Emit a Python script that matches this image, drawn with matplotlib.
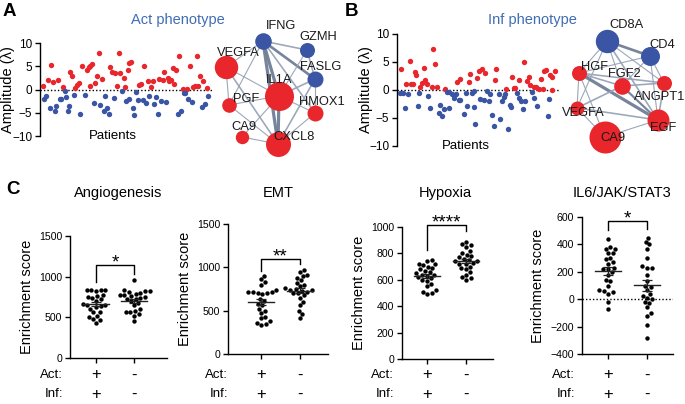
import numpy as np
import matplotlib
matplotlib.use('Agg')
import matplotlib.pyplot as plt
from matplotlib.transforms import blended_transform_factory as btf

plt.rcParams['font.family'] = ['Liberation Sans', 'DejaVu Sans']

RED = '#E8262B'
BLUE = '#3A55A4'
TITLE_BLUE = '#3F6DB5'

W, H = 685, 404

# ---------------- Panel A data (patient order, amplitude) ----------------
a_red_x = [3, 8, 11, 13, 18, 23, 31, 33, 36, 38, 40, 43, 48, 50, 51, 51, 53, 56, 58, 60, 63, 71, 73, 76,
           78, 80, 81, 85, 86, 90, 91, 93, 101, 103, 106, 110, 113, 115, 121, 125, 126, 130, 131, 133,
           135, 136, 138, 141, 145, 150, 153, 156, 158, 160, 161, 163, 166, 170]
a_red_y = [0.8, 2.1, 5.3, 1.7, 2.0, 0.5, 3.7, 3.0, 0.3, 1.0, 1.5, 5.0, 4.3, 4.8, 5.1, 0.8, 5.5, 1.5, 3.0, 7.8,
           2.3, 4.8, 3.7, 3.5, 0.8, 7.8, 3.5, 2.4, 0.5, 4.2, 5.8, 5.9, 0.9, 1.2, 5.0, 1.9, 0.5, 1.9, 2.3,
           2.0, 3.7, 2.5, 1.8, 2.0, 4.7, 1.2, 4.3, 7.1, 0.1, 0.1, 5.0, 0.5, 0.7, 7.3, 0.7, 3.0, 1.9, 0.3]
a_blue_x = [4, 6, 10, 15, 16, 20, 21, 25, 26, 28, 30, 35, 41, 46, 55, 61, 65, 66, 68, 70, 75, 83, 88, 91,
            95, 96, 98, 100, 105, 108, 111, 116, 118, 120, 123, 128, 140, 143, 146, 148, 151, 155, 165,
            168, 171]
a_blue_y = [-2.0, -1.3, -4.0, -4.7, -3.5, -2.0, -2.0, -0.4, -1.7, -4.6, -3.5, -1.2, -5.2, -1.2, -2.8, -3.3,
            -4.6, -1.3, -4.0, -5.2, -1.9, -0.3, -2.5, -2.0, -4.0, -5.5, -0.5, -2.2, -2.2, -2.8, -1.5, -3.1,
            -1.7, -5.2, -2.5, -2.7, -5.2, -4.6, -0.8, -0.8, -2.0, -2.7, -3.8, -3.1, -1.4]

# ---------------- Panel B data ----------------
b_red_x = [4, 9, 13, 14, 16, 18, 19, 23, 25, 27, 28, 30, 35, 36, 38, 40, 49, 61, 64, 73, 74, 81, 83, 86,
           89, 99, 100, 110, 116, 118, 119, 123, 129, 132, 134, 135, 139, 141, 144, 146, 148, 149, 151,
           155, 157, 157, 160]
b_red_y = [3.7, 1.1, 5.2, 1.1, 1.0, 3.2, 2.7, 0.6, 1.3, 4.0, 1.7, 1.0, 0.6, 7.3, 4.6, 0.6, 0.2, 1.4, 2.0,
           1.4, 2.9, 2.1, 3.4, 3.8, 3.1, 1.7, 3.7, 0.1, 2.3, 0.4, 0.3, 1.7, 5.0, 1.6, 2.3, 0.9, 0.5, 0.5,
           0.2, 2.0, 0.1, 3.4, 3.6, 2.7, 2.3, 0.0, 3.4]
b_blue_x = [3, 6, 8, 11, 21, 22, 31, 33, 43, 44, 46, 48, 51, 53, 53, 56, 58, 60, 63, 64, 68, 70, 71, 76,
            78, 78, 79, 84, 88, 91, 93, 94, 96, 98, 103, 104, 106, 108, 109, 112, 114, 115, 121, 124, 126,
            128, 130, 137, 139, 142, 153, 154]
b_blue_y = [-0.5, -0.5, -3.2, -0.7, -2.9, -0.5, -1.1, -3.2, -4.1, -2.7, -4.6, -3.4, -0.3, -3.3, -0.4, -0.7,
            -1.4, -0.8, -1.7, -1.7, -4.3, -0.5, -2.9, -0.5, -0.1, -3.0, -6.0, -1.6, -1.7, -0.1, -1.9, -0.7,
            -4.5, -6.4, -0.7, -5.1, -2.0, -1.3, -0.8, -7.0, -2.6, -3.1, -0.5, -1.4, -1.9, -3.4, -2.0, -0.4,
            -1.4, -2.9, -4.6, -1.6]

# ---------------- Networks ----------------
net_a_nodes = ['IFNG', 'GZMH', 'FASLG', 'VEGFA', 'IL1A', 'PGF', 'HMOX1', 'CA9', 'CXCL8']
net_a_kind = ['imm', 'imm', 'imm', 'ang', 'ang', 'ang', 'ang', 'ang', 'ang']
net_a_size = [8.3, 7.5, 8.0, 11.7, 14.5, 7.3, 8.0, 6.7, 12.5]
net_a_edges = [('IFNG', 'GZMH', 1.5), ('IFNG', 'FASLG', 2.5), ('IFNG', 'VEGFA', 1), ('IFNG', 'IL1A', 3),
               ('IFNG', 'CXCL8', 3), ('IFNG', 'HMOX1', 1.5), ('IFNG', 'PGF', 1), ('GZMH', 'FASLG', 1.5),
               ('GZMH', 'IL1A', 1), ('FASLG', 'IL1A', 1.5), ('FASLG', 'HMOX1', 1), ('FASLG', 'CXCL8', 1.5),
               ('VEGFA', 'PGF', 1), ('VEGFA', 'IL1A', 1), ('VEGFA', 'CXCL8', 1.5), ('PGF', 'IL1A', 1),
               ('PGF', 'CXCL8', 1), ('CA9', 'CXCL8', 1), ('CA9', 'IL1A', 1), ('IL1A', 'CXCL8', 3),
               ('HMOX1', 'CXCL8', 1), ('HMOX1', 'IL1A', 1)]
net_b_nodes = ['CD8A', 'CD4', 'HGF', 'FGF2', 'ANGPT1', 'VEGFA', 'EGF', 'CA9']
net_b_kind = ['imm', 'imm', 'ang', 'ang', 'ang', 'ang', 'ang', 'ang']
net_b_size = [11.7, 9.5, 7.5, 8.3, 7.5, 7.0, 11.0, 16.0]
net_b_edges = [('CD8A', 'CD4', 2.5), ('CD8A', 'HGF', 1), ('CD8A', 'FGF2', 1), ('CD8A', 'ANGPT1', 1),
               ('CD8A', 'EGF', 1.5), ('CD8A', 'VEGFA', 1), ('CD4', 'HGF', 1), ('CD4', 'FGF2', 1),
               ('CD4', 'ANGPT1', 1), ('CD4', 'EGF', 1), ('HGF', 'FGF2', 1.5), ('HGF', 'ANGPT1', 1.5),
               ('HGF', 'EGF', 3), ('HGF', 'VEGFA', 1), ('HGF', 'CA9', 1), ('FGF2', 'EGF', 2),
               ('FGF2', 'ANGPT1', 1.5), ('FGF2', 'VEGFA', 1.5), ('ANGPT1', 'EGF', 1.5), ('VEGFA', 'EGF', 1.5),
               ('VEGFA', 'CA9', 1), ('CA9', 'EGF', 1)]

# ---------------- Panel C data ----------------
c_titles = ['Angiogenesis', 'EMT', 'Hypoxia', 'IL6/JAK/STAT3']
c_sig = ['*', '**', '****', '*']
c_g1 = [
    [840, 830, 830, 820, 840, 770, 760, 750, 740, 720, 700, 660, 650, 650, 640, 630, 600, 570, 560, 520, 500, 480, 470, 430],
    [900, 860, 830, 800, 740, 720, 720, 710, 700, 700, 690, 640, 610, 580, 560, 520, 500, 470, 430, 410, 380, 360, 350, 340],
    [750, 740, 720, 720, 710, 700, 690, 680, 670, 660, 650, 640, 640, 630, 620, 610, 600, 590, 570, 550, 520, 510, 500, 490],
    [440, 380, 370, 370, 340, 340, 300, 290, 270, 260, 230, 220, 220, 200, 180, 140, 130, 100, 70, 60, 50, 40, -20, -70],
]
c_g2 = [
    [960, 830, 820, 820, 810, 800, 790, 780, 770, 760, 750, 740, 730, 720, 700, 680, 650, 600, 580, 560, 560, 540, 520, 460],
    [970, 950, 910, 900, 880, 850, 820, 800, 780, 760, 750, 740, 740, 730, 720, 700, 700, 680, 650, 600, 560, 500, 460, 410],
    [890, 870, 860, 850, 820, 800, 790, 780, 770, 760, 750, 740, 740, 730, 720, 720, 700, 690, 680, 660, 640, 620, 610, 600],
    [450, 420, 400, 370, 300, 240, 230, 230, 180, 130, 100, 90, 70, 40, 20, 10, 0, -20, -30, -60, -100, -120, -190, -280],
]
c_ylim = [(0, 1500), (0, 1500), (0, 1000), (-400, 600)]
c_yticks = [[0, 500, 1000, 1500], [0, 500, 1000, 1500], [0, 200, 400, 600, 800, 1000],
            [-400, -200, 0, 200, 400, 600]]
c_bracket = [(1143, 934, 1033), (1096, 958, 1038), (1015, 826, 970), (571, 505, 512)]
row_labels = ['Act:', 'Inf:']
row_signs = [['+', '-'], ['+', '-']]

fig = plt.figure(figsize=(W / 100, H / 100), dpi=100)


def px_axes(l, t, r, b):
    return fig.add_axes([l / W, 1 - b / H, (r - l) / W, (b - t) / H])


def scatter_panel(ax_box, rx, ry, bx, by, xmax, title, title_x, lab_x):
    ax = px_axes(*ax_box)
    ax.scatter(rx, ry, s=15, color=RED, linewidths=0, zorder=3)
    ax.scatter(bx, by, s=15, color=BLUE, linewidths=0, zorder=3)
    ax.axhline(0, color='black', lw=1, ls=(0, (1, 1.5)), zorder=2)
    ax.set_xlim(0, xmax)
    ax.set_ylim(-10, 10)
    ax.set_yticks([-10, -5, 0, 5, 10])
    ax.set_xticks([])
    for s in ['top', 'right', 'bottom']:
        ax.spines[s].set_visible(False)
    ax.spines['left'].set_linewidth(1)
    ax.tick_params(axis='y', length=3.5, width=1, labelsize=8.5, pad=2)
    ax.set_ylabel('Amplitude (λ)', fontsize=10.5)
    ax.yaxis.set_label_coords(lab_x, 0.5)
    ax.text(0.42, 0.0, 'Patients', transform=ax.transAxes, ha='center', va='center', fontsize=9.5)
    fig.text(title_x / W, 1 - 20 / H, title, color=TITLE_BLUE, fontsize=10.5, ha='center', va='center')
    return ax


scatter_panel((40, 43, 213, 136), a_red_x, a_red_y, a_blue_x, a_blue_y, 176, 'Act phenotype', 178, -0.145)
scatter_panel((397, 34, 560, 146), b_red_x, b_red_y, b_blue_x, b_blue_y, 165, 'Inf phenotype', 532, -0.147)

# network overlay (pixel layout)
ov = fig.add_axes([0, 0, 1, 1])
ov.set_xlim(0, W)
ov.set_ylim(H, 0)
ov.axis('off')
ov.patch.set_alpha(0)

layout_a = {'IFNG': (263, 41), 'GZMH': (307, 50), 'FASLG': (315, 79), 'VEGFA': (226, 67), 'IL1A': (279, 96),
            'PGF': (229, 105), 'HMOX1': (315, 113), 'CA9': (242, 137), 'CXCL8': (278, 144)}
labels_a = {'IFNG': (281, 26), 'GZMH': (318, 37), 'FASLG': (321, 67), 'VEGFA': (238, 53), 'IL1A': (279, 80),
            'PGF': (246, 99), 'HMOX1': (322, 102), 'CA9': (244, 127), 'CXCL8': (294, 137)}
layout_b = {'CD8A': (607, 41), 'CD4': (650, 56), 'HGF': (579, 73), 'FGF2': (622, 86), 'ANGPT1': (664, 83),
            'VEGFA': (577, 108), 'EGF': (658, 120), 'CA9': (605, 137)}
labels_b = {'CD8A': (627, 25), 'CD4': (662, 45), 'HGF': (595, 67), 'FGF2': (624, 74), 'ANGPT1': (660, 97),
            'VEGFA': (583, 113), 'EGF': (663, 128), 'CA9': (613, 138)}


def draw_net(nodes, kinds, sizes, edges, layout, labels):
    for a, b, w in edges:
        (x1, y1), (x2, y2) = layout[a], layout[b]
        col = '#6f7f96' if w >= 2 else '#97a3b5'
        ov.plot([x1, x2], [y1, y2], color=col, lw=0.8 + 0.75 * (w - 1), alpha=0.95, zorder=1,
                solid_capstyle='round')
    for n, k, r in zip(nodes, kinds, sizes):
        x, y = layout[n]
        ov.scatter([x], [y], s=(2 * r * 0.72) ** 2, color=BLUE if k == 'imm' else RED,
                   linewidths=0, zorder=2)
    for n in nodes:
        lx, ly = labels[n]
        ov.text(lx, ly, n, fontsize=9.3, ha='center', va='center', color='#1a1a1a', zorder=3)


draw_net(net_a_nodes, net_a_kind, net_a_size, net_a_edges, layout_a, labels_a)
draw_net(net_b_nodes, net_b_kind, net_b_size, net_b_edges, layout_b, labels_b)

for lab, (x, y) in zip(['A', 'B', 'C'], [(9, 12), (351, 12), (13, 189)]):
    fig.text(x / W, 1 - y / H, lab, fontsize=13.5, fontweight='bold', ha='center', va='center')


# ---------------- Panel C ----------------
def swarm(vals, ypx, xpx, d=4.8):
    vals = np.asarray(vals, float)
    yy = vals * ypx
    offs = np.zeros(len(vals))
    placed = []
    for i in np.argsort(vals):
        cands = [0.0]
        for (xo, yo) in placed:
            dy = yy[i] - yo
            if abs(dy) < d:
                dx = np.sqrt(d * d - dy * dy)
                cands += [xo + dx, xo - dx]
        cands = sorted(cands, key=abs)
        for c in cands:
            if all((c - xo) ** 2 + (yy[i] - yo) ** 2 >= d * d - 1e-6 for xo, yo in placed):
                offs[i] = c
                break
        placed.append((offs[i], yy[i]))
    return offs / xpx


c_boxes = [(70, 236, 167, 358), (228, 224, 328, 354), (402, 227, 493, 359), (582, 217, 673, 354)]
c_xlims = [(-0.684, 1.868), (-0.846, 1.718), (-0.641, 1.692), (-0.667, 1.667)]
c_title_x = [118, 278, 445, 622]

for i in range(4):
    l, t, r, b = c_boxes[i]
    ax = px_axes(l, t, r, b)
    ax.set_xlim(*c_xlims[i])
    ax.set_ylim(*c_ylim[i])
    ypx = (b - t) / (c_ylim[i][1] - c_ylim[i][0])
    xpx = (r - l) / (c_xlims[i][1] - c_xlims[i][0])
    for j, g in enumerate([c_g1[i], c_g2[i]]):
        g = np.asarray(g, float)
        xo = swarm(g, ypx, xpx)
        ax.scatter(j + xo, g, s=10, color='black', linewidths=0, zorder=3, clip_on=False)
        m = g.mean()
        se = g.std(ddof=1) / np.sqrt(len(g))
        ax.plot([j - 0.34, j + 0.34], [m, m], color='#222222', lw=1, zorder=4)
        ax.errorbar([j], [m], yerr=[se], color='#222222', lw=0.9, capsize=3.5, capthick=0.9, zorder=4)
    if c_ylim[i][0] < 0:
        ax.axhline(0, color='black', lw=1, ls=(0, (1, 1.5)), zorder=2)
    top, l1, l2 = c_bracket[i]
    ax.plot([0, 0, 1, 1], [l1, top, top, l2], color='black', lw=1, clip_on=False)
    ax.annotate(c_sig[i], xy=(0.5, top), xytext=(0, -2), textcoords='offset points',
                ha='center', va='baseline', fontsize=13.5, annotation_clip=False)
    for s in ['top', 'right']:
        ax.spines[s].set_visible(False)
    for s in ['left', 'bottom']:
        ax.spines[s].set_linewidth(1)
    ax.set_yticks(c_yticks[i])
    ax.set_xticks([0, 1])
    ax.set_xticklabels([])
    ax.tick_params(axis='both', length=3.5, width=1, labelsize=7.6, pad=2)
    ax.set_ylabel('Enrichment score', fontsize=10.5)
    fig.text(c_title_x[i] / W, 1 - 193 / H, c_titles[i], fontsize=10.5, ha='center', va='center')
    tr = btf(ax.transData, fig.transFigure)
    for k, yrow in enumerate([375, 394]):
        ax.text(-33 / xpx, 1 - yrow / H, row_labels[k], transform=tr, ha='right', va='center', fontsize=9.5)
        for j in range(2):
            ax.text(j, 1 - yrow / H, row_signs[k][j], transform=tr, ha='center', va='center', fontsize=12)

fig.savefig('out.png', dpi=100)
